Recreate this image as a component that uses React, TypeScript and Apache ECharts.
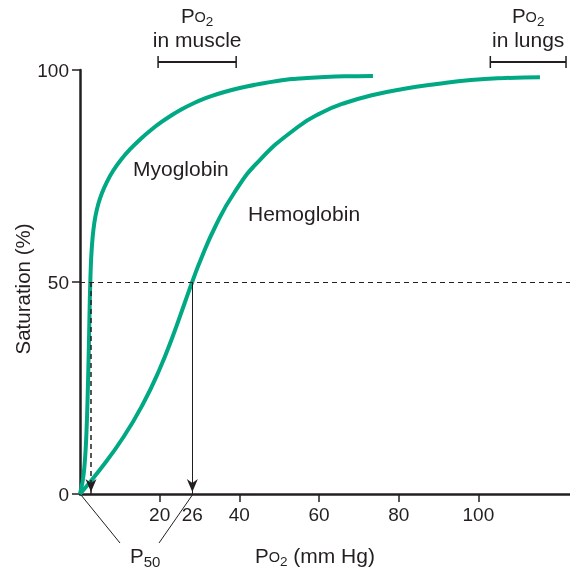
import React, { useEffect, useRef } from "react";
import * as echarts from "echarts";

// ---- data ----
const myoglobinPO2 = [0, 0.63, 1.08, 1.48, 1.78, 2.03, 2.26, 2.46, 2.59, 2.76, 3.01, 3.36, 3.89, 4.59, 5.52, 6.73, 8.28, 10.24, 12.65, 15.21, 17.82, 20.48, 23.09, 25.65, 28.66, 31.68, 34.54, 38.05, 41.82, 45.71, 49.47, 53.24, 56.98, 61.5, 66.52, 73.54];
const myoglobinSat = [0, 2.83, 6.13, 11.56, 18.63, 26.89, 36.32, 45.75, 50.24, 54.72, 58.73, 62.26, 65.57, 68.4, 70.99, 73.58, 76.18, 78.77, 81.37, 83.73, 85.85, 87.74, 89.39, 90.8, 92.22, 93.4, 94.34, 95.28, 96.11, 96.82, 97.41, 97.88, 98.11, 98.35, 98.51, 98.58];
const hemoglobinPO2 = [0, 4.94, 10.92, 15.94, 19.9, 23.22, 26.28, 28.26, 30.27, 33.91, 38.68, 45.13, 54.67, 60.47, 66.49, 73.52, 81.05, 89.58, 98.12, 106.68, 115.46];
const hemoglobinSat = [0, 5.66, 13.44, 21.46, 29.25, 37.03, 45.05, 50.24, 55.19, 62.97, 70.99, 78.77, 86.56, 89.86, 92.22, 94.1, 95.52, 96.7, 97.64, 98.11, 98.28];
const xTickValues = [20, 40, 60, 80, 100];
const yTickInterval = 50;
const halfSaturation = 50;
const myoglobinP50At = 2.76;
const hemoglobinP50At = 28.2; // where the drawn curve crosses 50 %
const hemoglobinP50Label = "26";
const muscleRange = [19.6, 39.2];
const lungsRange = [103, 122];
const xMax = 123;
const yMax = 100;
const yTitle = "Saturation (%)";

const FONT = '"Liberation Sans", Arial, Helvetica, sans-serif';
const INK = "#231f20";
const GREEN = "#00a884";

type Part = { t: string; s: number; dy?: number; gap?: number };

export default function App() {
  const ref = useRef<HTMLDivElement>(null);
  useEffect(() => {
    const chart = echarts.init(ref.current!, null, { renderer: "svg" });
    const xLabelValues = [...xTickValues, hemoglobinP50At].sort((a, b) => a - b);
    chart.setOption({
      animation: false,
      grid: { left: 80, right: 0, top: 70, bottom: 76, outerBoundsMode: "none" },
      xAxis: {
        type: "value",
        min: 0,
        max: xMax,
        splitLine: { show: false },
        axisLine: { lineStyle: { color: INK, width: 2.5 } },
        axisTick: { show: true, length: 8, lineStyle: { color: INK, width: 1.5 }, customValues: xTickValues },
        axisLabel: {
          customValues: xLabelValues,
          formatter: (v: number) => (Math.abs(v - hemoglobinP50At) < 1e-6 ? hemoglobinP50Label : String(v)),
          color: INK,
          fontSize: 19,
          fontFamily: FONT,
          margin: 11,
        },
      },
      yAxis: {
        type: "value",
        min: 0,
        max: yMax,
        interval: yTickInterval,
        splitLine: { show: false },
        axisLine: { show: true, lineStyle: { color: INK, width: 2.5 } },
        axisTick: { show: true, length: 8, lineStyle: { color: INK, width: 1.5 } },
        axisLabel: { color: INK, fontSize: 19, fontFamily: FONT, margin: 11 },
      },
      series: [
        {
          type: "line",
          data: [],
          z: 1,
          markLine: {
            silent: true,
            symbol: "none",
            label: { show: false },
            lineStyle: { color: INK, width: 1, type: [5, 4] },
            data: [{ yAxis: halfSaturation }],
          },
        },
        {
          type: "line",
          data: [],
          z: 2,
          markLine: {
            silent: true,
            symbol: "none",
            label: { show: false },
            lineStyle: { color: INK, width: 1.5, type: [5, 4] },
            data: [[{ coord: [myoglobinP50At, halfSaturation] }, { coord: [myoglobinP50At, 0] }]],
          },
        },
        {
          type: "line",
          data: [],
          z: 2,
          markLine: {
            silent: true,
            symbol: "none",
            label: { show: false },
            lineStyle: { color: INK, width: 1, type: "solid" },
            data: [[{ coord: [hemoglobinP50At, halfSaturation] }, { coord: [hemoglobinP50At, 0] }]],
          },
        },
        {
          name: "Myoglobin",
          type: "line",
          data: myoglobinPO2.map((x, i) => [x, myoglobinSat[i]]),
          smooth: 0.25,
          showSymbol: false,
          lineStyle: { color: GREEN, width: 4 },
          z: 3,
          silent: true,
        },
        {
          name: "Hemoglobin",
          type: "line",
          data: hemoglobinPO2.map((x, i) => [x, hemoglobinSat[i]]),
          smooth: 0.5,
          showSymbol: false,
          lineStyle: { color: GREEN, width: 4 },
          z: 3,
          silent: true,
        },
      ],
    });

    const ctx = document.createElement("canvas").getContext("2d")!;
    const tw = (t: string, s: number) => {
      ctx.font = `${s}px ${FONT}`;
      return ctx.measureText(t).width;
    };
    const composite = (parts: Part[], x0: number, cy: number, center: boolean) => {
      const widths = parts.map((p) => tw(p.t, p.s) + (p.gap || 0));
      const total = widths.reduce((a, b) => a + b, 0);
      let x = center ? x0 - total / 2 : x0;
      return parts.map((p, i) => {
        const el = {
          type: "text",
          x: x + (p.gap || 0),
          y: cy + (p.dy || 0),
          silent: true,
          style: { text: p.t, fontSize: p.s, fontFamily: FONT, fill: INK, align: "left", verticalAlign: "middle" },
        };
        x += widths[i];
        return el;
      });
    };
    const text = (t: string, x: number, y: number, align = "left") => ({
      type: "text",
      x,
      y,
      silent: true,
      style: { text: t, fontSize: 21, fontFamily: FONT, fill: INK, align, verticalAlign: "middle" },
    });
    const line = (x1: number, y1: number, x2: number, y2: number, w: number) => ({
      type: "line",
      silent: true,
      shape: { x1, y1, x2, y2 },
      style: { stroke: INK, lineWidth: w },
    });
    const arrowHead = (x: number, yTip: number) => ({
      type: "polygon",
      silent: true,
      z: 10,
      shape: { points: [[x, yTip], [x - 5.5, yTip - 13], [x, yTip - 9], [x + 5.5, yTip - 13]] },
      style: { fill: INK },
    });
    const px = (x: number, y: number) => chart.convertToPixel({ gridIndex: 0 }, [x, y]) as number[];
    const po2 = (): Part[] => [
      { t: "P", s: 20.5 },
      { t: "O", s: 14.5, dy: 2 },
      { t: "2", s: 13.5, dy: 6.5 },
    ];

    const elements: any[] = [];
    const barY = 62;
    [muscleRange, lungsRange].forEach((r, i) => {
      const a = px(r[0], yMax)[0];
      const b = px(r[1], yMax)[0];
      elements.push(line(a, barY, b, barY, 2));
      elements.push(line(a, barY - 6, a, barY + 6, 1.5));
      elements.push(line(b, barY - 6, b, barY + 6, 1.5));
      const mid = (a + b) / 2;
      elements.push(...composite(po2(), mid, 15, true));
      elements.push(text(i === 0 ? "in muscle" : "in lungs", mid, 39, "center"));
    });
    elements.push(text("Myoglobin", 133, 168));
    elements.push(text("Hemoglobin", 248, 213));

    const mid50 = px(0, halfSaturation);
    elements.push({
      type: "text",
      x: 22,
      y: mid50[1] + 7,
      rotation: Math.PI / 2,
      silent: true,
      style: { text: yTitle, fontSize: 20.5, fontFamily: FONT, fill: INK, align: "center", verticalAlign: "middle" },
    });

    const o = px(0, 0);
    const m = px(myoglobinP50At, 0);
    const h = px(hemoglobinP50At, 0);
    elements.push(arrowHead(m[0], m[1] - 2));
    elements.push(arrowHead(h[0], h[1] - 2));
    elements.push(line(o[0] + 1, o[1] + 1, 120, 543, 1));
    elements.push(line(h[0], h[1] + 1, 159, 543, 1));
    elements.push(...composite([{ t: "P", s: 20.5 }, { t: "50", s: 15, dy: 6.5 }], 130, 555, false));
    elements.push(
      ...composite([...po2(), { t: "(mm Hg)", s: 21, gap: tw(" ", 21) }], 255, 555, false)
    );
    chart.setOption({ graphic: elements });
    return () => chart.dispose();
  }, []);
  return <div ref={ref} style={{ position: "fixed", left: 0, top: 0, width: 570, height: 570 }} />;
}
